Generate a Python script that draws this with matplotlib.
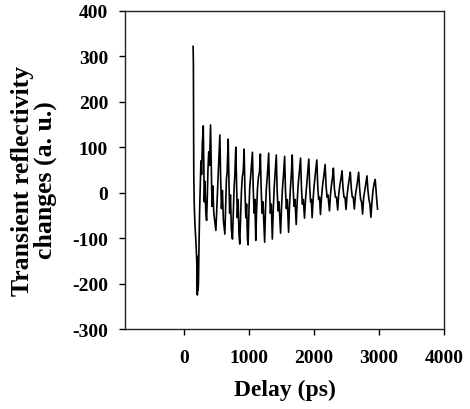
import matplotlib
matplotlib.use("Agg")
import matplotlib.pyplot as plt

# delay (ps) and transient reflectivity change (a. u.)
delay_ps = [
    140, 144, 150, 158, 168, 180, 190, 198, 205, 211, 216, 222, 230, 240, 250, 260, 270, 282,
    296, 304, 312, 322, 334, 347, 358, 368, 380, 392,
    408, 418, 430, 442, 458, 490, 505, 518, 532,
    551, 562, 576, 590, 605, 628, 640, 652, 663,
    679, 690, 702, 714, 728, 745, 758, 770, 782,
    796, 808, 820, 832, 845, 857, 870, 882, 896, 910,
    924, 936, 950, 962, 975, 985, 998, 1010, 1024,
    1052, 1064, 1078, 1090, 1103, 1116, 1130, 1145, 1160,
    1174, 1186, 1200, 1214, 1240, 1252, 1266, 1280,
    1302, 1314, 1328, 1342, 1358, 1372, 1386, 1400,
    1419, 1432, 1446, 1460, 1485, 1500, 1514, 1528,
    1547, 1560, 1574, 1588, 1608, 1622, 1636, 1650,
    1664, 1678, 1692, 1706, 1725, 1740, 1754, 1770,
    1792, 1806, 1820, 1834, 1853, 1868, 1882, 1898,
    1919, 1932, 1946, 1958, 1970, 1985, 2000, 2018,
    2042, 2056, 2070, 2084, 2098, 2114, 2130, 2148,
    2170, 2184, 2200, 2214, 2236, 2252, 2266, 2280,
    2297, 2312, 2328, 2345, 2363, 2378, 2395, 2412,
    2430, 2445, 2460, 2475, 2491, 2508, 2525, 2540,
    2557, 2572, 2588, 2602, 2619, 2636, 2652, 2668,
    2685, 2700, 2716, 2730, 2746, 2762, 2780, 2796,
    2813, 2828, 2844, 2858, 2874, 2890, 2906, 2922,
    2940, 2955, 2966, 2976,
]
signal = [
    322, 285, 40, -30, -70, -100, -130, -160, -225, -140, -215, -200, -120, -40, 20, 70, 40, 110,
    147, 60, -20, 25, -40, -61, -10, 50, 90, 60,
    149, 70, -30, 15, -45, -83, -30, 20, 60,
    127, 40, -35, 5, -60, -91, -30, 30, 45,
    118, 30, -45, -5, -80, -102, -40, 10, 40,
    100, 20, -55, -15, -90, -113, -50, 0, 35, 45,
    96, 10, -55, -25, -100, -115, -40, 10, 35,
    89, 10, -45, -15, -105, -40, 10, 35, 45,
    85, 10, -45, -20, -109, -40, 10, 35,
    87, 10, -45, -25, -102, -40, 10, 40,
    83, 5, -40, -20, -89, -30, 10, 35,
    80, 5, -35, -15, -87, -30, 10, 40,
    83, 10, -30, -15, -70, -20, 15, 40,
    76, 10, -25, -15, -56, -15, 10, 40,
    74, 15, -20, -15, -55, -15, 15, 40,
    72, 15, -15, -10, -48, -10, 15, 35,
    62, 15, -10, -5, -40, -5, 15, 30,
    54, 10, -10, -10, -38, -5, 15, 30,
    48, 10, -10, -10, -37, -5, 15, 30,
    45, 10, -10, -10, -36, -5, 10, 25,
    45, 10, -15, -20, -47, -10, 5, 20,
    37, 5, -15, -25, -54, -20, 5, 20,
    29, 0, -20, -36,
]

x_ticks = [0, 1000, 2000, 3000, 4000]
y_ticks = [-300, -200, -100, 0, 100, 200, 300, 400]

plt.rcParams["font.family"] = ["Liberation Serif", "DejaVu Serif"]
plt.rcParams["font.weight"] = "bold"

fig = plt.figure(figsize=(4.7, 4.1), dpi=100)
ax = fig.add_axes([0.267, 0.195, 0.678, 0.776])

ax.plot(delay_ps, signal, color="black", linewidth=1.2)

ax.set_xlim(-900, 4000)
ax.set_ylim(-300, 400)
ax.set_xticks(x_ticks)
ax.set_yticks(y_ticks)
ax.set_xticklabels([str(t) for t in x_ticks], fontsize=14, fontweight="bold")
ax.set_yticklabels([str(t) for t in y_ticks], fontsize=14, fontweight="bold")
ax.tick_params(axis="x", direction="out", length=4.5, width=1.0, pad=10)
ax.tick_params(axis="y", direction="out", length=4.5, width=1.0, pad=8)
for spine in ax.spines.values():
    spine.set_linewidth(1.0)
    spine.set_color("#222222")

ax.set_xlabel("Delay (ps)", fontsize=17, fontweight="bold", labelpad=9)
ax.set_ylabel("Transient reflectivity\nchanges (a. u.)", fontsize=18.5, fontweight="bold",
              linespacing=1.0)
ax.yaxis.set_label_coords(-0.215, 0.47)

fig.savefig("out.png", dpi=100)
